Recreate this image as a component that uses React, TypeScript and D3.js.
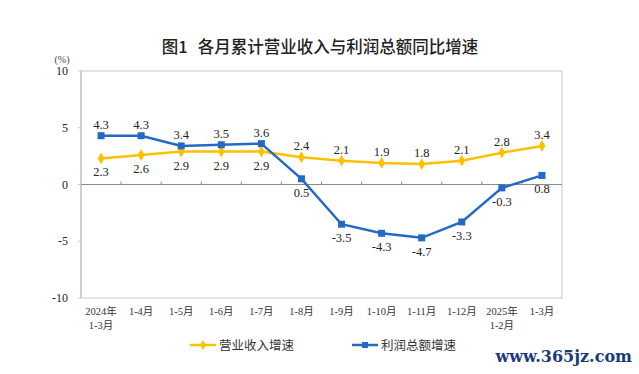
import React, { useEffect, useRef } from 'react';
import * as d3 from 'd3';

const categories = ['2024年\n1-3月', '1-4月', '1-5月', '1-6月', '1-7月', '1-8月', '1-9月', '1-10月', '1-11月', '1-12月', '2025年\n1-2月', '1-3月'];
const revenue = [2.3, 2.6, 2.9, 2.9, 2.9, 2.4, 2.1, 1.9, 1.8, 2.1, 2.8, 3.4];
const profit = [4.3, 4.3, 3.4, 3.5, 3.6, 0.5, -3.5, -4.3, -4.7, -3.3, -0.3, 0.8];
const yTicks = [10, 5, 0, -5, -10];
// which side each data label sits on (true = above)
const revenueAbove = [false, false, false, false, false, true, true, true, true, true, true, true];
const profitAbove = [true, true, true, true, true, false, false, false, false, false, false, false];

const YELLOW = '#FFC000';
const BLUE = '#2469C6';
const SERIF = '"Times New Roman", "Liberation Serif", "Noto Sans CJK SC", serif';

export default function App() {
  const svgRef = useRef<SVGSVGElement | null>(null);

  useEffect(() => {
    const svg = d3.select(svgRef.current);
    svg.selectAll('*').remove();
    const W = 639, H = 374;
    const m = { left: 81, right: 77, top: 71, bottom: 76 };

    svg.append('rect').attr('width', W).attr('height', H).attr('fill', '#fff');

    const x = d3.scaleBand().domain(categories).range([m.left, W - m.right]);
    const y = d3.scaleLinear().domain([-10, 10]).range([H - m.bottom, m.top]);
    const cx = (i: number) => (x(categories[i]) as number) + x.bandwidth() / 2;

    // title
    const title = svg.append('text')
      .attr('x', 320).attr('y', 53)
      .attr('text-anchor', 'middle')
      .attr('font-family', '"Noto Sans CJK SC", sans-serif')
      .attr('font-size', 16.5).attr('font-weight', 500)
      .attr('fill', '#222');
    title.append('tspan').text('图1');
    title.append('tspan').attr('dx', 10).text('各月累计营业收入与利润总额同比增速');

    svg.append('text')
      .attr('x', 62).attr('y', 63)
      .attr('text-anchor', 'middle')
      .attr('font-family', SERIF).attr('font-size', 10).attr('fill', '#444')
      .text('(%)');

    // frame
    svg.append('rect')
      .attr('x', m.left).attr('y', m.top)
      .attr('width', W - m.right - m.left).attr('height', H - m.bottom - m.top)
      .attr('fill', 'none').attr('stroke', '#c8c8c8').attr('stroke-width', 1);
    svg.append('line')
      .attr('x1', m.left).attr('x2', m.left)
      .attr('y1', m.top).attr('y2', H - m.bottom)
      .attr('stroke', '#d0d0d0').attr('stroke-width', 2);

    // y ticks
    const yg = svg.append('g');
    yTicks.forEach(t => {
      yg.append('line')
        .attr('x1', m.left - 3).attr('x2', m.left)
        .attr('y1', y(t)).attr('y2', y(t))
        .attr('stroke', '#c8c8c8');
      yg.append('text')
        .attr('x', m.left - 13).attr('y', y(t) + 4)
        .attr('text-anchor', 'end')
        .attr('font-family', SERIF).attr('font-size', 12).attr('fill', '#222')
        .text(t);
    });

    // zero axis
    svg.append('line')
      .attr('x1', m.left).attr('x2', W - m.right)
      .attr('y1', y(0)).attr('y2', y(0))
      .attr('stroke', '#8c8c8c').attr('stroke-width', 1);
    categories.forEach((c, i) => {
      if (i === 0) return;
      const bx = x(c) as number;
      svg.append('line')
        .attr('x1', bx).attr('x2', bx)
        .attr('y1', y(0) - 3).attr('y2', y(0))
        .attr('stroke', '#8c8c8c');
    });

    // x labels
    categories.forEach((c, i) => {
      const t = svg.append('text')
        .attr('x', cx(i)).attr('y', H - m.bottom + 17)
        .attr('text-anchor', 'middle')
        .attr('font-family', SERIF).attr('font-size', 10.5).attr('fill', '#333');
      c.split('\n').forEach((ln, k) => {
        t.append('tspan').attr('x', cx(i)).attr('dy', k === 0 ? 0 : 14).text(ln);
      });
    });

    const line = d3.line<number>().x((_, i) => cx(i)).y(d => y(d));

    // revenue series
    svg.append('path').datum(revenue)
      .attr('d', line).attr('fill', 'none')
      .attr('stroke', YELLOW).attr('stroke-width', 2.5);
    svg.append('g').selectAll('path').data(revenue).join('path')
      .attr('d', d3.symbol(d3.symbolDiamond, 40)())
      .attr('transform', (d, i) => `translate(${cx(i)},${y(d)})`)
      .attr('fill', YELLOW);

    // profit series
    svg.append('path').datum(profit)
      .attr('d', line).attr('fill', 'none')
      .attr('stroke', BLUE).attr('stroke-width', 2.5);
    svg.append('g').selectAll('rect').data(profit).join('rect')
      .attr('x', (_, i) => cx(i) - 3.5).attr('y', d => y(d) - 3.5)
      .attr('width', 7).attr('height', 7)
      .attr('fill', BLUE);

    // data labels
    const labels = (vals: number[], above: boolean[]) => {
      vals.forEach((v, i) => {
        svg.append('text')
          .attr('x', cx(i)).attr('y', y(v) + (above[i] ? -7 : 18))
          .attr('text-anchor', 'middle')
          .attr('font-family', SERIF).attr('font-size', 12.5).attr('fill', '#222')
          .text(v.toFixed(1));
      });
    };
    labels(revenue, revenueAbove);
    labels(profit, profitAbove);

    // legend
    const lg = svg.append('g');
    const items = [
      { name: '营业收入增速', color: YELLOW, x0: 190, sym: 'diamond' },
      { name: '利润总额增速', color: BLUE, x0: 352, sym: 'square' },
    ];
    items.forEach(it => {
      lg.append('line')
        .attr('x1', it.x0).attr('x2', it.x0 + 26)
        .attr('y1', 345).attr('y2', 345)
        .attr('stroke', it.color).attr('stroke-width', 2.5);
      if (it.sym === 'diamond') {
        lg.append('path').attr('d', d3.symbol(d3.symbolDiamond, 30)())
          .attr('transform', `translate(${it.x0 + 13},345)`).attr('fill', it.color);
      } else {
        lg.append('rect').attr('x', it.x0 + 10).attr('y', 342).attr('width', 6).attr('height', 6)
          .attr('fill', it.color);
      }
      lg.append('text')
        .attr('x', it.x0 + 29).attr('y', 350)
        .attr('font-family', '"Noto Sans CJK SC", sans-serif')
        .attr('font-size', 12.5).attr('fill', '#333')
        .text(it.name);
    });

    // watermark
    svg.append('text')
      .attr('x', 632).attr('y', 362)
      .attr('text-anchor', 'end')
      .attr('font-family', '"DejaVu Serif", serif')
      .attr('font-size', 16).attr('font-weight', 'bold')
      .attr('fill', '#1a3a7a')
      .text('www.365jz.com');
  }, []);

  return (
    <svg ref={svgRef} width={639} height={374}
      style={{ position: 'absolute', left: 0, top: 0, display: 'block' }} />
  );
}
